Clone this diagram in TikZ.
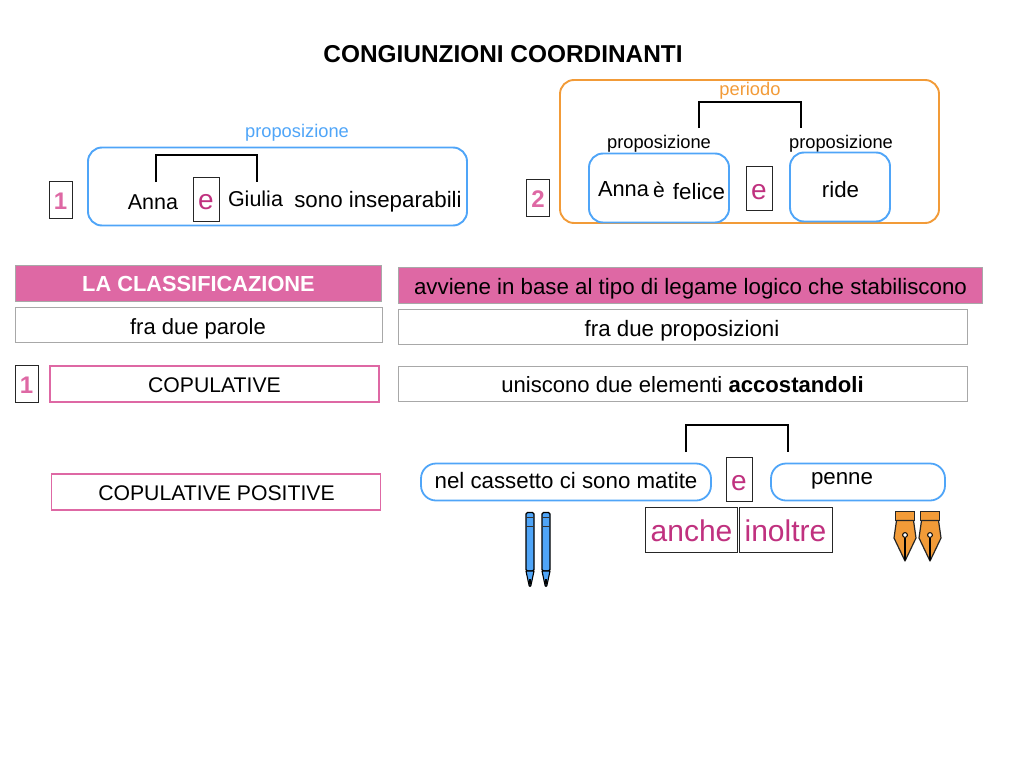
\documentclass[tikz,border=0pt]{standalone}
\usepackage{fontspec}
\setmainfont{Liberation Sans}
\definecolor{pink}{HTML}{DE68A4}
\definecolor{dpink}{HTML}{C0317F}
\definecolor{blu}{HTML}{4FA5F8}
\definecolor{oran}{HTML}{F29B38}
\definecolor{grayb}{HTML}{A8A8A8}
\newcommand{\fs}[1]{\fontsize{#1}{#1}\selectfont}
\tikzset{
  x=1pt,y=-1pt,
  txt/.style={inner sep=0pt,anchor=center,text=black},
  t21/.style={txt,font=\fs{22.3}},
  t20/.style={txt,font=\fs{21.2}},
  t17/.style={txt,font=\fs{18.3}},
  blubox/.style={draw=blu,line width=1.9pt,rounded corners=14pt,fill=white,inner sep=0pt},
  orbox/.style={draw=oran,line width=1.9pt,rounded corners=14pt,inner sep=0pt},
  blkbox/.style={draw=black!85,line width=0.8pt,fill=white,inner sep=0pt},
  graybox/.style={draw=grayb,line width=1pt,fill=white,inner sep=0pt},
  pinkfill/.style={draw=grayb,line width=1pt,fill=pink,inner sep=0pt},
  pinkbox/.style={draw=pink,line width=1.8pt,fill=white,inner sep=0pt},
  brk/.style={draw=black,line width=1.8pt},
  pencil/.style={draw=black,line width=1.1pt,fill=blu},
  nib/.style={draw=black!85,line width=1.2pt,fill=oran},
}
\begin{document}
\begin{tikzpicture}
\useasboundingbox (0,0) rectangle (1024,768);
\node[txt,font=\bfseries\fs{24.4}] (title) at (503,54) {CONGIUNZIONI COORDINANTI};

% box 1
\node[blubox,minimum width=379pt,minimum height=78pt] (b1) at (277.5,186.5) {};
\node[txt,font=\fs{18.3},text=blu] (prop1) at (297,133) {proposizione};
\node[txt,font=\fs{21.5}] (anna) at (153,202) {Anna};
\node[blkbox,minimum width=26pt,minimum height=44pt] (e1) at (206,199) {};
\node[txt,font=\fs{28},text=dpink] (e1t) at (206,202) {e};
\node[txt,font=\fs{21.5}] (giulia) at (255.5,199) {Giulia};
\node[t21] (sono) at (378,202) {sono inseparabili};
\node[blkbox,minimum width=23pt,minimum height=37pt] (n1) at (60.5,200) {};
\node[txt,font=\bfseries\fs{24},text=pink] (n1t) at (60.5,201) {1};
\coordinate (a1) at (156,182); \coordinate (a1t) at (156,155);
\coordinate (g1) at (257,182); \coordinate (g1t) at (257,155);
\draw[brk] (a1) -- (a1t) -- (g1t) -- (g1);

% box 2
\node[orbox,minimum width=379pt,minimum height=143pt] (b2) at (749.5,151.5) {};
\node[txt,font=\fs{18.3},text=oran] (per) at (750,91) {periodo};
\node[t17] (p2a) at (659,144) {proposizione};
\node[t17] (p2b) at (841,144) {proposizione};
\node[blubox,minimum width=140pt,minimum height=69pt] (b2a) at (659,188) {};
\node[blubox,minimum width=100pt,minimum height=69pt] (b2b) at (840,187) {};
\node[txt,font=\fs{21.8}] (anna2) at (623.5,189) {Anna};
\node[txt,font=\fs{21}] (ee) at (659,190) {è};
\node[t21] (felice) at (699,192) {felice};
\node[t21] (ride) at (840.5,190) {ride};
\node[blkbox,minimum width=26pt,minimum height=44pt] (e2) at (759,188) {};
\node[txt,font=\fs{28},text=dpink] (e2t) at (759,192) {e};
\node[blkbox,minimum width=23pt,minimum height=37pt] (n2) at (538,198) {};
\node[txt,font=\bfseries\fs{24},text=pink] (n2t) at (538,199) {2};
\coordinate (a2) at (699,128); \coordinate (a2t) at (699,102);
\coordinate (g2) at (801,128); \coordinate (g2t) at (801,102);
\draw[brk] (a2) -- (a2t) -- (g2t) -- (g2);

% rows
\node[pinkfill,minimum width=366pt,minimum height=36pt] (r1) at (198.5,283.5) {};
\node[txt,font=\bfseries\fs{21.8},text=white] (r1t) at (198.5,284) {LA CLASSIFICAZIONE};
\node[pinkfill,minimum width=584pt,minimum height=36pt] (r2) at (690,285.5) {};
\node[t21] (r2t) at (690.5,289) {avviene in base al tipo di legame logico che stabiliscono};
\node[graybox,minimum width=367pt,minimum height=35pt] (r3) at (198.5,325) {};
\node[txt,font=\fs{22}] (r3t) at (198,329) {fra due parole};
\node[graybox,minimum width=569pt,minimum height=35pt] (r4) at (682.5,327) {};
\node[t21] (r4t) at (682,331) {fra due proposizioni};
\node[blkbox,minimum width=23pt,minimum height=37pt] (n3) at (26.5,384) {};
\node[txt,font=\bfseries\fs{24},text=pink] (n3t) at (26.5,385) {1};
\node[pinkbox,minimum width=329pt,minimum height=36pt] (c1) at (214.5,384) {};
\node[t20] (c1t) at (214.5,385) {COPULATIVE};
\node[graybox,minimum width=569pt,minimum height=35pt] (r5) at (682.5,384) {};
\node[txt,font=\fs{22.1}] (r5t) at (682.5,385) {uniscono due elementi \textbf{accostandoli}};
\node[pinkbox,minimum width=329pt,minimum height=36pt] (c2) at (216,492) {};
\node[t20] (c2t) at (216.5,493) {COPULATIVE POSITIVE};

% bottom sentence
\node[blubox,line width=1.8pt,rounded corners=15pt,minimum width=290pt,minimum height=37pt] (s1) at (566,482) {};
\node[t21] (s1t) at (566,481) {nel cassetto ci sono matite};
\node[blubox,line width=1.8pt,rounded corners=15pt,minimum width=174pt,minimum height=37pt] (s2) at (858,482) {};
\node[t21] (s2t) at (842,481) {penne};
\node[blkbox,minimum width=26pt,minimum height=44pt] (e3) at (739,479) {};
\node[txt,font=\fs{28},text=dpink] (e3t) at (739,483) {e};
\coordinate (a3) at (686,452); \coordinate (a3t) at (686,425);
\coordinate (g3) at (788,452); \coordinate (g3t) at (788,425);
\draw[brk] (a3) -- (a3t) -- (g3t) -- (g3);
\node[blkbox,minimum width=92pt,minimum height=45pt] (w1) at (691.5,529.5) {};
\node[txt,font=\fs{30},text=dpink] (w1t) at (691.5,531) {anche};
\node[blkbox,minimum width=93pt,minimum height=45pt] (w2) at (785.5,529.5) {};
\node[txt,font=\fs{30},text=dpink] (w2t) at (785.5,531) {inoltre};

% pencils
\foreach \px in {530,546}{
  \draw[pencil,rounded corners=1.5pt] (\px-4,571) -- (\px-4,512.5) -- (\px+4,512.5) -- (\px+4,571) -- cycle;
  \draw[draw=black!80,line width=1pt] (\px-4,517) -- (\px+4,517) (\px-4,526) -- (\px+4,526);
  \draw[pencil,line join=round] (\px-4,571) -- (\px+4,571) -- (\px+0.8,586) -- (\px-0.8,586) -- cycle;
  \fill[black] (\px-1,579) -- (\px+1,579) -- (\px+0.6,586.5) -- (\px-0.6,586.5) -- cycle;
}
% nibs
\foreach \nx in {905,930}{
  \draw[nib] (\nx-9.5,511.5) rectangle (\nx+9.5,520.5);
  \draw[nib,line join=round] (\nx-8.5,520.5) -- (\nx+8.5,520.5) -- (\nx+11,538) -- (\nx,561) -- (\nx-11,538) -- cycle;
  \draw[draw=black,line width=1.1pt] (\nx,538) -- (\nx,560);
  \draw[draw=black,line width=1pt,fill=white] (\nx,535) circle (2.4);
}
\end{tikzpicture}
\end{document}
